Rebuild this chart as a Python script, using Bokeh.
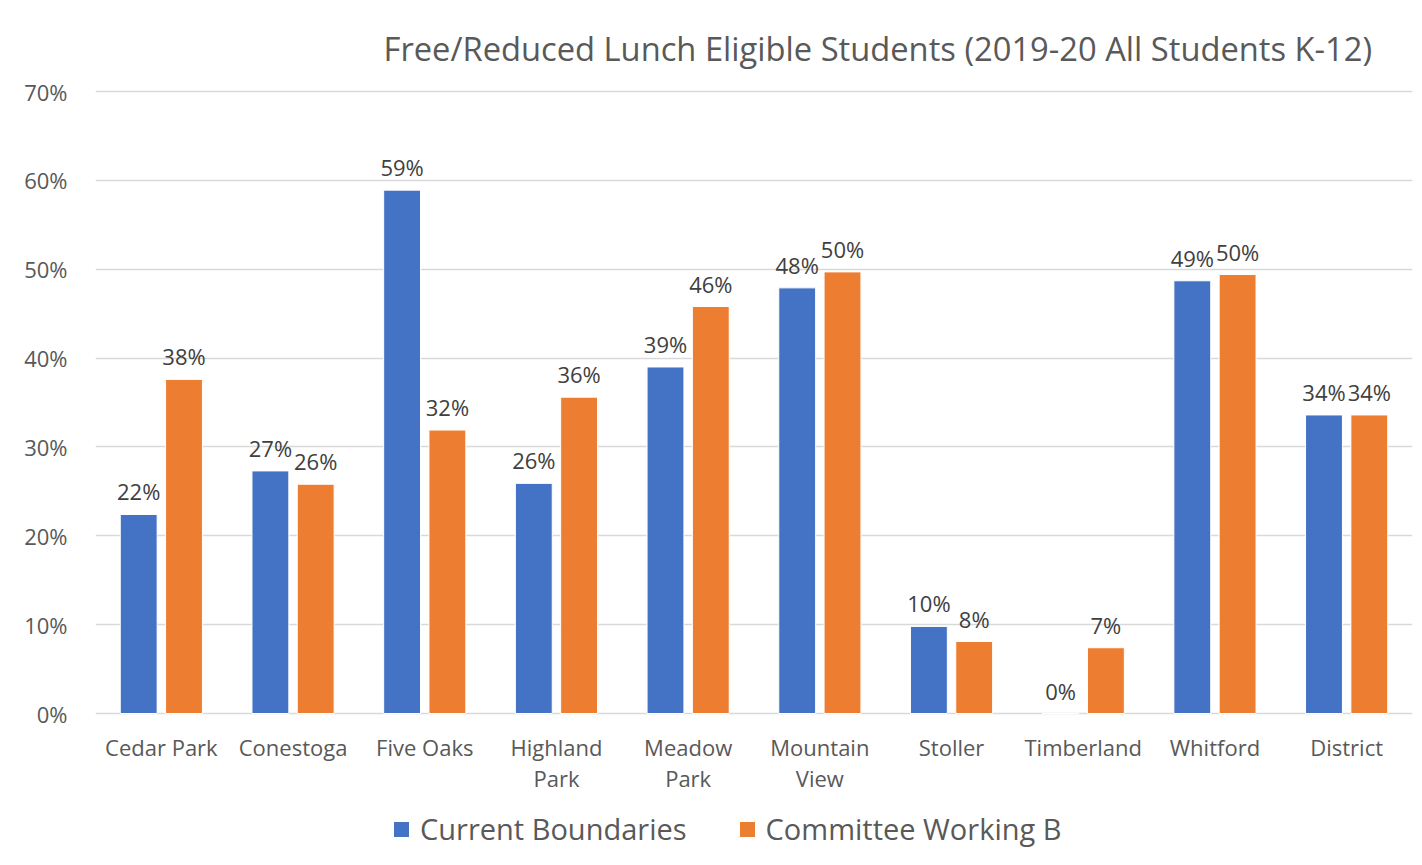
from bokeh.plotting import figure
from bokeh.models import Range1d, FixedTicker, Legend, LegendItem, ColumnDataSource, Label
from bokeh.transform import dodge
from bokeh.core.properties import value
from bokeh.embed import file_html
from bokeh.resources import INLINE

# ---------------- data ----------------
categories = ["Cedar Park", "Conestoga", "Five Oaks", "Highland Park", "Meadow Park",
              "Mountain View", "Stoller", "Timberland", "Whitford", "District"]
category_labels = ["Cedar Park", "Conestoga", "Five Oaks", "Highland\nPark", "Meadow\nPark",
                   "Mountain\nView", "Stoller", "Timberland", "Whitford", "District"]
current = [22.4, 27.3, 58.9, 25.9, 39.0, 47.9, 9.8, 0.0, 48.7, 33.6]
committee = [37.6, 25.8, 31.9, 35.6, 45.8, 49.7, 8.1, 7.4, 49.4, 33.6]
current_labels = ["22%", "27%", "59%", "26%", "39%", "48%", "10%", "0%", "49%", "34%"]
committee_labels = ["38%", "26%", "32%", "36%", "46%", "50%", "8%", "7%", "50%", "34%"]
y_ticks = [0, 10, 20, 30, 40, 50, 60, 70]
y_tick_labels = ["0%", "10%", "20%", "30%", "40%", "50%", "60%", "70%"]
series_names = ["Current Boundaries", "Committee Working B"]
title_text = "Free/Reduced Lunch Eligible Students (2019-20 All Students K-12)"

BLUE = "#4472C4"
ORANGE = "#ED7D31"
FONT = "Open Sans"
GREY = "#595959"

n = len(categories)
x_pos = [i + 0.5 for i in range(n)]
line1 = [lab.split("\n")[0] for lab in category_labels]
line2 = [lab.split("\n")[1] if "\n" in lab else "" for lab in category_labels]
zeros = [0] * n
src = ColumnDataSource(dict(x=x_pos, cur=current, com=committee,
                            cur_lab=current_labels, com_lab=committee_labels,
                            l1=line1, l2=line2, zero=zeros))

# frame spans whole figure height: 0% at y=713px, 70% at y=91px
H = 857
px_per_unit = (713 - 91) / 70.0
y_top = 70 + 91 / px_per_unit
y_bot = -(H - 713) / px_per_unit

p = figure(width=1414, height=H, output_backend="svg", toolbar_location=None,
           x_range=Range1d(0, n), y_range=Range1d(y_bot, y_top),
           min_border_left=95, min_border_right=2, min_border_top=0, min_border_bottom=0)
p.outline_line_color = None
p.background_fill_color = "white"
p.border_fill_color = "white"

bw = 0.28
off = 0.172
r1 = p.vbar(x=dodge("x", -off, range=p.x_range), top="cur", bottom=0, width=bw, source=src,
            fill_color=BLUE, line_color="white", line_width=1)
r2 = p.vbar(x=dodge("x", off, range=p.x_range), top="com", bottom=0, width=bw, source=src,
            fill_color=ORANGE, line_color="white", line_width=1)

# data labels
p.text(x=dodge("x", -off, range=p.x_range), y="cur", text="cur_lab", source=src,
       text_align="center", text_baseline="alphabetic", y_offset=-23,
       text_font=value(FONT), text_font_size="22px", text_color="#404040")
p.text(x=dodge("x", off, range=p.x_range), y="com", text="com_lab", source=src,
       text_align="center", text_baseline="alphabetic", y_offset=-23,
       text_font=value(FONT), text_font_size="22px", text_color="#404040")

# category labels (drawn under the zero line)
p.text(x="x", y="zero", text="l1", source=src, text_align="center", text_baseline="middle",
       y_offset=33, text_font=value(FONT), text_font_size="22px", text_color=GREY)
p.text(x="x", y="zero", text="l2", source=src, text_align="center", text_baseline="middle",
       y_offset=64, text_font=value(FONT), text_font_size="22px", text_color=GREY)

# axes
p.xaxis.visible = False
p.yaxis.ticker = FixedTicker(ticks=y_ticks)
p.yaxis.major_label_overrides = {t: lab for t, lab in zip(y_ticks, y_tick_labels)}
p.yaxis.major_tick_line_color = None
p.yaxis.minor_tick_line_color = None
p.yaxis.axis_line_color = None
p.yaxis.major_label_text_font = FONT
p.yaxis.major_label_text_font_size = "22px"
p.yaxis.major_label_text_color = GREY
p.yaxis.major_label_standoff = 22
p.xgrid.grid_line_color = None
p.ygrid.ticker = FixedTicker(ticks=y_ticks)
p.ygrid.grid_line_color = "#d9d9d9"
p.ygrid.grid_line_width = 1.5

# title
p.add_layout(Label(x=2.187, y=(713 - 48) / px_per_unit, text=title_text, text_align="left",
                   text_baseline="alphabetic", text_font=FONT, text_font_size="32.7px",
                   text_color=GREY))

legend = Legend(items=[LegendItem(label=series_names[0], renderers=[r1]),
                       LegendItem(label=series_names[1], renderers=[r2])],
                orientation="horizontal", location=(296, 9),
                glyph_width=20, glyph_height=20, label_standoff=9, spacing=50,
                label_text_font=FONT, label_text_font_size="29px", label_text_color=GREY,
                border_line_color=None, background_fill_alpha=0, margin=0, padding=0)
p.add_layout(legend, "center")

open("out.html", "w").write(file_html(p, INLINE))
